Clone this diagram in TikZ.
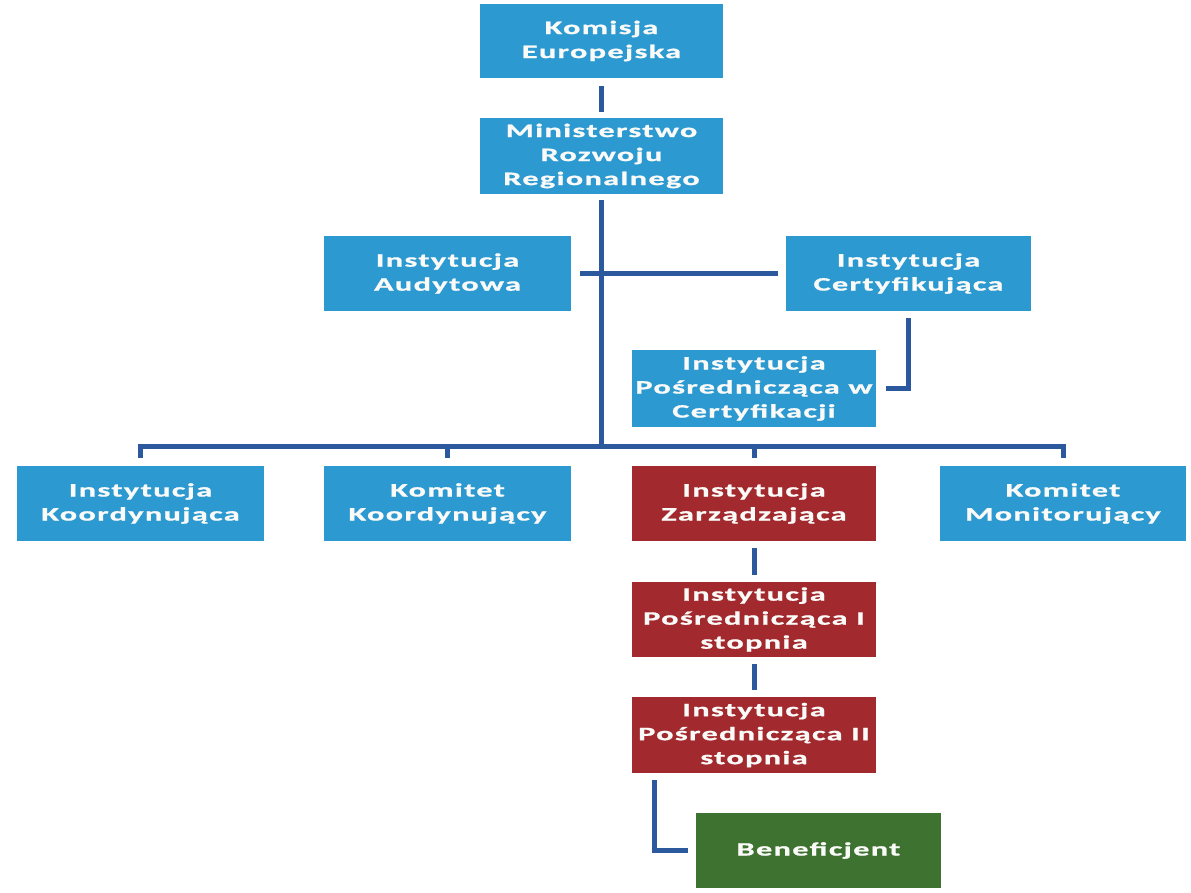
\documentclass[tikz,border=0pt]{standalone}
\usepackage{fontspec}
\newfontfamily\boxfont{Carlito}[FakeStretch=1.7,LetterSpace=7,FakeBold=1]
\definecolor{boxblue}{RGB}{44,154,208}
\definecolor{boxred}{RGB}{162,42,46}
\definecolor{boxgreen}{RGB}{62,114,48}
\definecolor{connblue}{RGB}{44,88,158}
\definecolor{txtwhite}{RGB}{250,250,248}
\begin{document}
\begin{tikzpicture}[x=1pt,y=-1pt,
  box/.style={rectangle, fill=boxblue, draw=none, minimum width=245pt, minimum height=75pt,
    inner sep=0pt, align=center, text=txtwhite,
    font={\boxfont\bfseries\fontsize{19}{24}\selectfont}},
  redbox/.style={box, fill=boxred},
  greenbox/.style={box, fill=boxgreen},
  conn/.style={draw=connblue, line width=5pt}]
\useasboundingbox[fill=white] (0,0) rectangle (1191,893);

\node[box, minimum width=243pt, minimum height=74pt] (KE) at (601.5,41) {Komisja\\Europejska};
\node[box, minimum width=243pt, minimum height=76pt] (MRR) at (601.5,156) {Ministerstwo\\Rozwoju\\Regionalnego};
\node[box, minimum width=247pt] (IA) at (447.5,273.5) {Instytucja\\Audytowa};
\node[box] (IC) at (908.5,273.5) {Instytucja\\Certyfikująca};
\node[box, minimum width=244pt, minimum height=77pt] (IPC) at (754,388.5) {Instytucja\\Pośrednicząca w\\Certyfikacji};
\node[box, minimum width=247pt] (IK) at (140.5,503.5) {Instytucja\\Koordynująca};
\node[box, minimum width=247pt] (KK) at (447.5,503.5) {Komitet\\Koordynujący};
\node[redbox, minimum width=244pt] (IZ) at (754,503.5) {Instytucja\\Zarządzająca};
\node[box, minimum width=246pt] (KM) at (1063,503.5) {Komitet\\Monitorujący};
\node[redbox, minimum width=244pt] (IP1) at (754,619.5) {Instytucja\\Pośrednicząca I\\stopnia};
\node[redbox, minimum width=244pt, minimum height=76pt] (IP2) at (754,735) {Instytucja\\Pośrednicząca II\\stopnia};
\node[greenbox] (BEN) at (818.5,850.5) {Beneficjent};

\coordinate (bus) at (601,446);

\draw[conn, shorten <=8pt, shorten >=6pt] (KE) -- (MRR);
\draw[conn, shorten <=6pt] (MRR.south) -- (MRR.south |- bus);
\draw[conn] ([xshift=9pt]IA.east) -- ([xshift=-8pt]IC.west);
\draw[conn] ([yshift=-7pt]IC.south) |- ([xshift=10pt]IPC.east);
\draw[conn] ([yshift=8pt]IK.north) |- (bus) -| ([yshift=8pt]KM.north);
\draw[conn] ([yshift=8pt]KK.north) -- (KK.north |- bus);
\draw[conn] ([yshift=8pt]IZ.north) -- (IZ.north |- bus);
\draw[conn, shorten <=7pt, shorten >=7pt] (IZ) -- (IP1);
\draw[conn, shorten <=7pt, shorten >=7pt] (IP1) -- (IP2);
\draw[conn] ([xshift=23pt,yshift=-7pt]IP2.south west) |- ([xshift=-8pt]BEN.west);
\end{tikzpicture}
\end{document}
